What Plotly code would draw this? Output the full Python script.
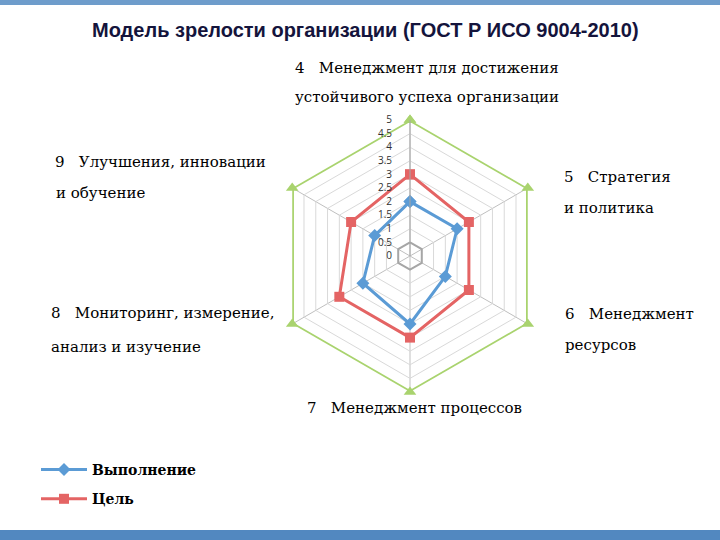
import plotly.graph_objects as go

W, H = 720, 540

categories = ["4", "5", "6", "7", "8", "9"]
vypolnenie = [2, 2, 1.5, 2.5, 2, 1.5]
tsel = [3, 2.5, 2.5, 3, 3, 2.5]
maksimum = [5, 5, 5, 5, 5, 5]
inner_ring = [0.5, 0.5, 0.5, 0.5, 0.5, 0.5]

series_names = ["Выполнение", "Цель"]
radial_ticks = [0, 0.5, 1, 1.5, 2, 2.5, 3, 3.5, 4, 4.5, 5]

NB = "\u00a0"
axis_label_lines = [
    ("4" + NB * 3 + "Менеджмент для достижения", 293, 68),
    ("устойчивого успеха организации", 293, 97),
    ("5" + NB * 3 + "Стратегия", 562, 177),
    ("и политика", 562, 208),
    ("6" + NB * 3 + "Менеджмент", 563, 314),
    ("ресурсов", 563, 345),
    ("7" + NB * 3 + "Менеджмент процессов", 305, 408),
    ("8" + NB * 3 + "Мониторинг, измерение,", 49, 313),
    ("анализ и изучение", 49, 347),
    ("9" + NB * 3 + "Улучшения, инновации", 53, 162),
    ("и обучение", 54, 193),
]
title_text = "Модель зрелости организации (ГОСТ Р ИСО 9004-2010)"


def closed(v):
    return list(v) + [v[0]]


theta = closed(categories)

fig = go.Figure()

fig.add_trace(go.Scatterpolar(
    r=closed(inner_ring), theta=theta, mode="lines",
    line=dict(color="#A6A6A6", width=2), showlegend=False, hoverinfo="skip"))

fig.add_trace(go.Scatterpolar(
    r=closed(maksimum), theta=theta, mode="lines+markers", name="Максимум",
    line=dict(color="#A9D36E", width=3.5),
    marker=dict(symbol="triangle-up", size=11, color="#A9D36E"),
    showlegend=False))

fig.add_trace(go.Scatterpolar(
    r=closed(vypolnenie), theta=theta, mode="lines+markers", name=series_names[0],
    line=dict(color="#5B9BD5", width=3),
    marker=dict(symbol="diamond", size=10, color="#5B9BD5"),
    legendgroup="a"))

fig.add_trace(go.Scatterpolar(
    r=closed(tsel), theta=theta, mode="lines+markers", name=series_names[1],
    line=dict(color="#E46464", width=3),
    marker=dict(symbol="square", size=10, color="#E46464"),
    legendgroup="b"))

cx, cy, R = 410, 256, 136
fig.update_layout(
    width=W, height=H,
    margin=dict(l=0, r=0, t=0, b=0),
    paper_bgcolor="white",
    plot_bgcolor="white",
    polar=dict(
        domain=dict(x=[(cx - R) / W, (cx + R) / W], y=[1 - (cy + R) / H, 1 - (cy - R) / H]),
        bgcolor="white",
        gridshape="linear",
        angularaxis=dict(rotation=90, direction="clockwise", showticklabels=False,
                         ticks="", gridcolor="#BFBFBF", showline=False),
        radialaxis=dict(range=[0, 5], tickvals=radial_ticks, angle=90, tickangle=90,
                        side="counterclockwise", ticks="outside", ticklen=14,
                        tickcolor="rgba(0,0,0,0)", showline=True,
                        linecolor="#A6A6A6", gridcolor="#D9D9D9",
                        tickfont=dict(family="Open Sans", size=10, color="#303030")),
    ),
    legend=dict(x=36 / W, y=1 - 454 / H, xanchor="left", yanchor="top",
                font=dict(family="DejaVu Serif", size=14, color="black", weight="bold"),
                tracegroupgap=8, itemwidth=46, bgcolor="rgba(0,0,0,0)"),
    font=dict(family="DejaVu Serif"),
)

annotations = [dict(text="<b>" + title_text + "</b>", x=365 / W, y=1 - 30 / H,
                    xref="paper", yref="paper", showarrow=False, xanchor="center",
                    yanchor="middle",
                    font=dict(family="Liberation Sans", size=20, color="#14143C"))]
for txt, x, y in axis_label_lines:
    annotations.append(dict(text=txt, x=x / W, y=1 - y / H, xref="paper", yref="paper",
                            showarrow=False, xanchor="left", yanchor="middle",
                            font=dict(family="DejaVu Serif", size=15, color="black")))
fig.update_layout(annotations=annotations)

fig.update_layout(shapes=[
    dict(type="rect", xref="paper", yref="paper", x0=0, x1=1, y0=1 - 5 / H, y1=1,
         fillcolor="#6E9CCB", line=dict(width=0), layer="below"),
    dict(type="rect", xref="paper", yref="paper", x0=0, x1=1, y0=0, y1=10 / H,
         fillcolor="#5288C0", line=dict(width=0), layer="below"),
])

fig.write_html("out.html", config={"displayModeBar": False},
               post_script="document.body.style.margin='0px';")
